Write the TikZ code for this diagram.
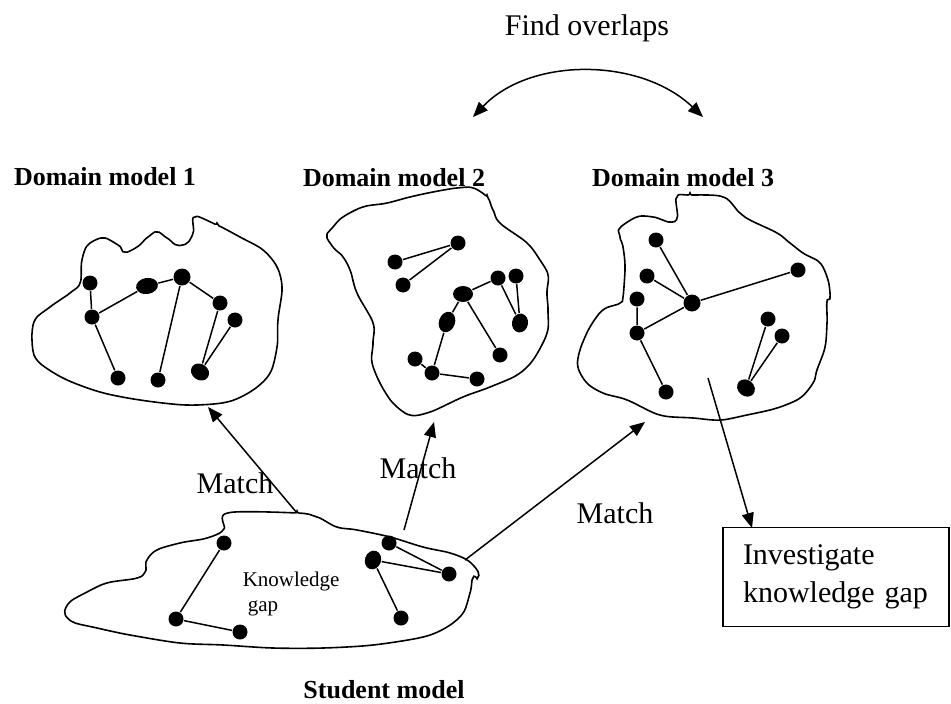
\documentclass[tikz,border=0pt]{standalone}
\usepackage{fontspec}
\setmainfont{Liberation Serif}
\usetikzlibrary{arrows.meta,shapes.geometric}

\begin{document}
\begin{tikzpicture}[x=1pt, y=-1pt,
        line width=1.5pt,
        dot/.style={circle, fill, inner sep=0pt, minimum size=15pt},
        longdot/.style={ellipse, fill, inner sep=0pt, minimum width=22pt, minimum height=16pt},
        blob/.style={line width=1.6pt, rounded corners=2pt},
        title/.style={font=\fontsize{26}{28}\selectfont\bfseries},
        label/.style={font=\fontsize{30}{38}\selectfont},
        match/.style={-{Triangle[length=15pt,width=12pt]}}
    ]
    \useasboundingbox (0,0) rectangle (951,704);

    % titles
    \node[label] (overlap) at (587,28) {Find overlaps};
    \node[title] (dm1) at (105,177) {Domain model 1};
    \node[title] (dm2) at (394,178) {Domain model 2};
    \node[title] (dm3) at (683,178) {Domain model 3};
    \node[title] (stu) at (384,690) {Student model};

    % outlines
    \draw[blob] plot[smooth cycle, tension=0.5] coordinates {(195,217) (217,225) (240,237) (263,250) (277,267) (282,288) (278,320) (277,347) (270,373) (253,390) (227,402) (187,405) (140,400) (100,392) (63,378) (37,360) (32,340) (35,320) (50,307) (70,293) (80,283) (82,260) (88,245) (103,238) (118,245) (125,252) (137,247) (148,237) (157,232) (167,238) (177,245) (187,243) (193,233)};
    \draw[blob] plot[smooth cycle, tension=0.5] coordinates {(473,188) (487,197) (493,210) (500,223) (527,243) (540,260) (548,275) (547,293) (548,310) (547,333) (533,360) (517,375) (490,387) (463,397) (430,412) (410,415) (393,403) (380,383) (372,362) (373,343) (373,323) (357,293) (350,270) (343,257) (333,247) (327,236) (333,227) (343,217) (363,207) (387,203) (410,197) (433,192) (457,188)};
    \draw[blob] plot[smooth cycle, tension=0.5] coordinates {(677,197) (690,195) (723,197) (740,213) (750,220) (777,233) (790,243) (803,253) (820,263) (828,280) (830,297) (827,302) (827,323) (825,347) (817,370) (813,383) (800,398) (777,408) (747,415) (720,420) (693,418) (660,415) (627,400) (603,393) (587,383) (578,367) (580,350) (590,327) (603,310) (620,303) (623,297) (625,267) (623,247) (620,237) (620,228) (637,217) (653,217) (670,222) (677,218)};
    \draw[blob] plot[smooth cycle, tension=0.5] coordinates {(228,513) (297,513) (317,517) (337,527) (357,530) (390,537) (423,547) (450,553) (467,560) (477,570) (478,577) (473,578) (470,593) (463,613) (447,627) (423,637) (373,645) (323,648) (273,648) (223,645) (180,643) (130,635) (97,628) (73,622) (65,613) (70,602) (87,592) (107,583) (137,578) (145,572) (147,560) (157,550) (180,543) (207,538) (223,530)};

    % domain model 1
    \node[dot] (m1a) at (90,283) {};
    \node[dot] (m1b) at (92,317) {};
    \node[longdot, rotate=10] (m1c) at (147,286) {};
    \node[dot, minimum size=17pt] (m1d) at (182,277) {};
    \node[dot] (m1e) at (220,303) {};
    \node[dot] (m1f) at (235,320) {};
    \node[dot] (m1g) at (118,378) {};
    \node[dot] (m1h) at (158,380) {};
    \node[longdot, rotate=-35, minimum width=19pt] (m1i) at (200,372) {};
    \draw (m1a) -- (m1b) -- (m1c) -- (m1d) -- (m1e) -- (m1i) -- (m1f);
    \draw (m1b) -- (m1g);
    \draw (m1d) -- (m1h);

    % domain model 2
    \node[dot] (m2a) at (458,243) {};
    \node[dot] (m2b) at (395,262) {};
    \node[dot] (m2c) at (403,285) {};
    \node[dot] (m2d) at (498,278) {};
    \node[dot] (m2e) at (516,276) {};
    \node[longdot, minimum width=20pt] (m2f) at (463,294) {};
    \node[longdot, rotate=70, minimum width=21pt] (m2g) at (447,322) {};
    \node[longdot, rotate=80, minimum width=19pt] (m2h) at (520,323) {};
    \node[dot] (m2i) at (500,355) {};
    \node[dot] (m2j) at (415,359) {};
    \node[dot] (m2k) at (432,373) {};
    \node[dot] (m2l) at (477,379) {};
    \draw (m2b) -- (m2a) -- (m2c);
    \draw (m2g) -- (m2f) -- (m2d) -- (m2h) -- (m2e);
    \draw (m2f) -- (m2i);
    \draw (m2g) -- (m2k) -- (m2l);
    \draw (m2j) -- (m2k);

    % domain model 3
    \node[dot] (m3a) at (656,240) {};
    \node[dot] (m3b) at (647,276) {};
    \node[dot] (m3c) at (637,299) {};
    \node[dot, minimum size=17pt] (m3d) at (692,303) {};
    \node[dot] (m3e) at (798,270) {};
    \node[dot] (m3f) at (637,333) {};
    \node[dot] (m3g) at (666,392) {};
    \node[dot] (m3h) at (768,319) {};
    \node[dot] (m3i) at (782,336) {};
    \node[longdot, rotate=-40, minimum width=19pt] (m3j) at (746,388) {};
    \draw (m3a) -- (m3d) -- (m3e);
    \draw (m3b) -- (m3d) -- (m3f);
    \draw (m3c) -- (m3f) -- (m3g);
    \draw (m3h) -- (m3j) -- (m3i);

    % student model
    \node[dot] (s1) at (224,543) {};
    \node[dot] (s2) at (176,619) {};
    \node[dot] (s3) at (240,632) {};
    \node[dot] (s4) at (389,543) {};
    \node[longdot, rotate=70, minimum width=19pt] (s5) at (373,560) {};
    \node[dot] (s6) at (449,574) {};
    \node[dot] (s7) at (401,618) {};
    \draw (s1) -- (s2) -- (s3);
    \draw (s4) -- (s6) -- (s5) -- (s7);
    \node[font=\fontsize{21}{25}\selectfont, align=left, anchor=north west, inner sep=0pt] (kgap) at (242,571) {Knowledge\\\hspace{5pt}gap};

    % box
    \node[draw, line width=1.2pt, label, align=left, text width=186pt, inner xsep=20pt, minimum height=99pt] (invest) at (836,577) {Investigate\\knowledge gap};

    % connectors
    \coordinate (ovl) at (473,117);
    \coordinate (ovr) at (703,117);
    \coordinate (st1) at (297,513);
    \coordinate (st2) at (404,530);
    \coordinate (st3) at (465,560);
    \coordinate (dm1b) at (208,407);
    \coordinate (dm2b) at (434,422);
    \coordinate (dm3b) at (645,422);
    \coordinate (dm3g) at (708,378);
    \coordinate (gaptop) at (752,528);
    \draw[{Triangle[length=15pt,width=12pt]}-{Triangle[length=15pt,width=12pt]}] (ovl) .. controls (530,57) and (640,57) .. (ovr);
    \draw[match] (st1) -- (dm1b);
    \draw[match] (st2) -- (dm2b);
    \draw[match] (st3) -- (dm3b);
    \draw[match] (dm3g) -- (gaptop);
    \node[label] (mt1) at (235,483) {Match};
    \node[label] (mt2) at (418,468) {Match};
    \node[label] (mt3) at (615,513) {Match};
\end{tikzpicture}
\end{document}
